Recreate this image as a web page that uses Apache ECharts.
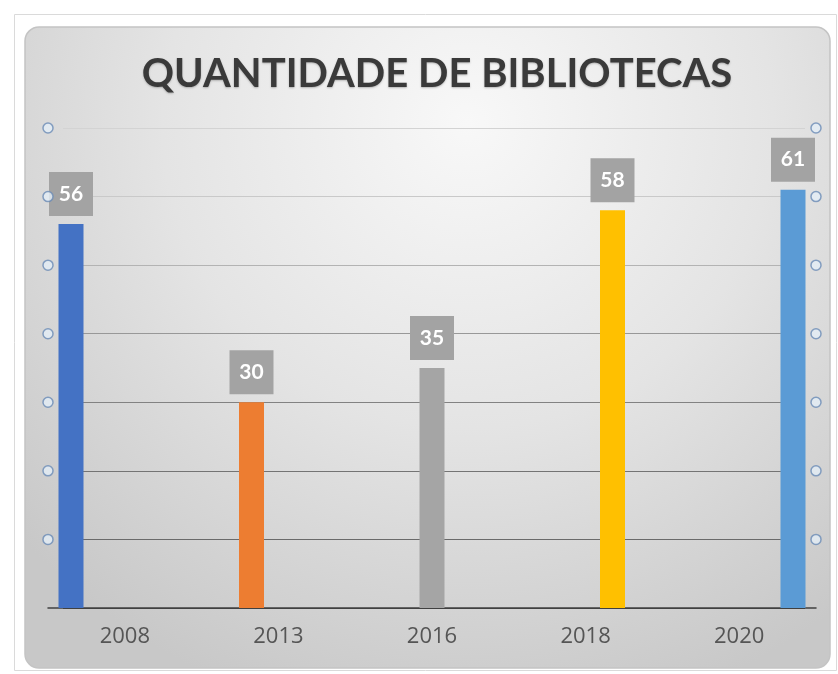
<!DOCTYPE html>
<html>
<head>
<meta charset="utf-8">
<script src="https://cdn.jsdelivr.net/npm/echarts@6/dist/echarts.min.js"></script>
<style>
  html, body { margin: 0; padding: 0; background: #ffffff; }
  #chart { width: 838px; height: 674px; }
</style>
</head>
<body>
<div id="chart"></div>
<script>
var years = ["2008", "2013", "2016", "2018", "2020"];
var quantidades = [56, 30, 35, 58, 61];
var barColors = ["#4472c4", "#ed7d31", "#a5a5a5", "#ffc000", "#5b9bd5"];
var gridLevels = [10, 20, 30, 40, 50, 60, 70];

var myChart = echarts.init(document.getElementById("chart"));

// selection handles sit at both ends of each gridline
var handles = [];
gridLevels.forEach(function (v) {
  handles.push([0, v]);
  handles.push([1, v]);
});

myChart.setOption({
  animation: false,
  graphic: [
    {
      type: "rect",
      z: -10,
      shape: { x: 14.5, y: 14.5, width: 822, height: 656 },
      style: { fill: "#ffffff", stroke: "#dadada", lineWidth: 1 }
    },
    {
      type: "rect",
      z: -9,
      shape: { x: 25, y: 27, width: 805, height: 641, r: 14 },
      style: {
        fill: new echarts.graphic.RadialGradient(0.55, 0.15, 0.95, [
          { offset: 0, color: "#f8f8f8" },
          { offset: 0.5, color: "#e4e4e4" },
          { offset: 1, color: "#c8c8c8" }
        ]),
        stroke: "#c4c4c4",
        lineWidth: 1.5
      }
    }
  ],
  title: {
    text: "QUANTIDADE DE BIBLIOTECAS",
    left: 432,
    top: 49,
    textAlign: "center",
    textStyle: {
      fontFamily: "Lato",
      fontWeight: "bold",
      fontSize: 40,
      color: "#3a3a3a",
      textShadowColor: "rgba(0,0,0,0.25)",
      textShadowBlur: 2,
      textShadowOffsetY: 1
    }
  },
  grid: [
    { left: 48, right: 22, top: 128, bottom: 66 },
    { left: 71, right: 45, top: 128, bottom: 66 },
    { left: 63, right: 33, top: 128, bottom: 66 }
  ],
  xAxis: [
    {
      type: "category",
      gridIndex: 0,
      data: years,
      boundaryGap: true,
      axisLine: { lineStyle: { color: "#404040", width: 1.5 } },
      axisTick: { show: false },
      axisLabel: {
        margin: 18,
        fontFamily: "Open Sans",
        fontSize: 22,
        color: "#555555"
      }
    },
    {
      type: "category",
      gridIndex: 1,
      data: years,
      boundaryGap: false,
      show: false
    },
    {
      type: "value",
      gridIndex: 2,
      min: 0,
      max: 1,
      show: false
    },
    {
      type: "value",
      gridIndex: 0,
      min: 0,
      max: 1,
      show: false
    }
  ],
  yAxis: [
    { type: "value", gridIndex: 0, min: 0, max: 70, interval: 10, show: false },
    { type: "value", gridIndex: 1, min: 0, max: 70, interval: 10, show: false },
    {
      type: "value",
      gridIndex: 2,
      min: 0,
      max: 70,
      interval: 10,
      axisLine: { show: false },
      axisTick: { show: false },
      axisLabel: { show: false },
      splitLine: {
        lineStyle: {
          color: ["#404040", "#6a6a6a", "#747474", "#828282", "#989898", "#b3b3b3", "#c9c9c9", "#d3d3d3"],
          width: 1.2
        }
      }
    }
  ],
  series: [
    {
      type: "bar",
      xAxisIndex: 1,
      yAxisIndex: 1,
      barWidth: 25,
      data: quantidades.map(function (v, i) {
        return { value: v, itemStyle: { color: barColors[i] } };
      }),
      label: {
        show: true,
        position: "top",
        distance: 8,
        width: 44,
        height: 44,
        lineHeight: 44,
        align: "center",
        backgroundColor: "#a3a3a3",
        color: "#ffffff",
        fontFamily: "Lato",
        fontWeight: "bold",
        fontSize: 21
      }
    },
    {
      type: "scatter",
      xAxisIndex: 3,
      yAxisIndex: 0,
      data: handles,
      symbol: "circle",
      symbolSize: 10,
      z: 5,
      itemStyle: {
        color: "#e3eef6",
        borderColor: "#6a8bb5",
        borderWidth: 1.5
      }
    }
  ]
});
</script>
</body>
</html>
